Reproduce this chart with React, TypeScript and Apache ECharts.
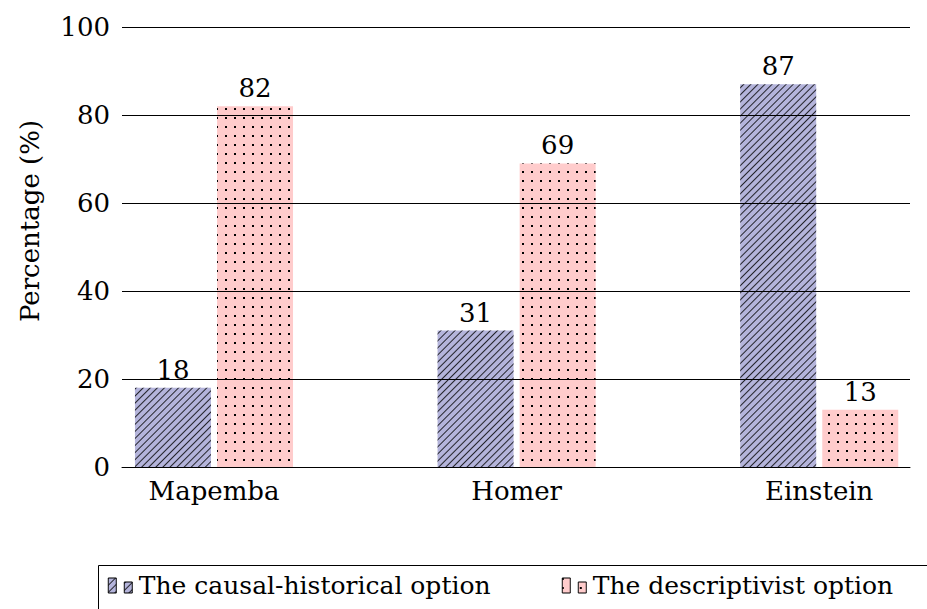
import React, { useEffect, useRef } from "react";
import * as echarts from "echarts";

const categories = ["Mapemba", "Homer", "Einstein"];
const causalHistorical = [18, 31, 87];
const descriptivist = [82, 69, 13];
const yTicks = [0, 20, 40, 60, 80, 100];
const seriesNames = ["The causal-historical option", "The descriptivist option"];

const FONT = "DejaVu Serif";
const FS = 26;

export default function App() {
  const ref = useRef<HTMLDivElement>(null);
  useEffect(() => {
    if (!ref.current) return;
    const chart = echarts.init(ref.current, undefined, { renderer: "svg" });
    const hatch = {
      symbol: "rect",
      symbolSize: 1,
      color: "rgba(0,0,0,0.8)",
      dashArrayX: [1, 0],
      dashArrayY: [1, 3.7],
      rotation: -Math.PI / 4,
    };
    const dots = {
      symbol: "rect",
      symbolSize: 1,
      color: "#000",
      dashArrayX: [2, 6.3],
      dashArrayY: [2, 6.3],
      rotation: 0,
    };
    const label = {
      show: true,
      position: "top",
      distance: 5,
      fontSize: FS,
      fontFamily: FONT,
      color: "#000",
    };
    const legendCommon = {
      top: 573,
      itemWidth: 25,
      itemHeight: 15,
      icon: "path://M0,0 h8 v15 h-8 z M16,4 h8 v11 h-8 z",
      selectedMode: false,
      padding: 0,
      textStyle: { fontSize: FS - 1, fontFamily: FONT, color: "#000", padding: [0, 0, 0, 1] },
      itemStyle: { borderColor: "#000", borderWidth: 0.6 },
    };
    chart.setOption({
      animation: false,
      backgroundColor: "#fff",
      textStyle: { fontFamily: FONT },
      grid: { left: 122, top: 27, width: 788, height: 440, containLabel: false },
      xAxis: {
        type: "value",
        min: -0.304,
        max: 2.3,
        axisLine: { show: true, lineStyle: { color: "#000", width: 1 } },
        axisTick: { show: false },
        splitLine: { show: false },
        axisLabel: {
          customValues: [0, 1, 2],
          formatter: (v: number) => categories[Math.round(v)] ?? "",
          fontSize: FS,
          fontFamily: FONT,
          color: "#000",
          margin: 11,
        },
      },
      yAxis: {
        type: "value",
        min: 0,
        max: 100,
        interval: 20,
        z: 5,
        axisLine: { show: false },
        axisTick: { show: false },
        splitLine: { show: true, lineStyle: { color: "#000", width: 1 } },
        axisLabel: {
          customValues: yTicks,
          fontSize: FS,
          fontFamily: FONT,
          color: "#000",
          margin: 12,
        },
      },
      legend: [
        { ...legendCommon, left: 108, data: [seriesNames[0]] },
        { ...legendCommon, left: 562, data: [seriesNames[1]] },
      ],
      graphic: [
        {
          type: "text",
          x: 30,
          y: 221,
          rotation: Math.PI / 2,
          style: {
            text: "Percentage (%)",
            fontSize: FS,
            fontFamily: FONT,
            fill: "#000",
            align: "center",
            verticalAlign: "middle",
          },
        },
        {
          type: "rect",
          shape: { x: 98.5, y: 565.5, width: 1000, height: 200 },
          style: { fill: "none", stroke: "#000", lineWidth: 1 },
          silent: true,
        },
      ],
      series: [
        {
          name: seriesNames[0],
          type: "bar",
          barWidth: 76,
          barGap: "8%",
          data: causalHistorical.map((v, i) => [i, v]),
          itemStyle: { color: "#b4b4db", decal: hatch },
          label,
        },
        {
          name: seriesNames[1],
          type: "bar",
          barWidth: 76,
          barGap: "8%",
          data: descriptivist.map((v, i) => [i, v]),
          itemStyle: { color: "#ffcccc", decal: dots },
          label,
        },
      ],
    });
    return () => chart.dispose();
  }, []);
  return (
    <div
      ref={ref}
      style={{ position: "fixed", left: 0, top: 0, width: 927, height: 609 }}
    />
  );
}
